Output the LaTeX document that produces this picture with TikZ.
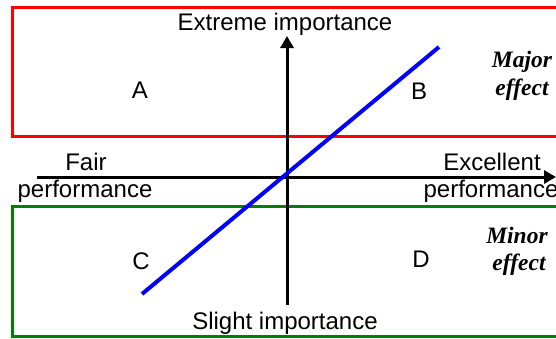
\documentclass[tikz,border=0pt]{standalone}
\usepackage{fontspec}
\setmainfont{Liberation Sans}
\newfontfamily\tnr{Liberation Serif}
\usetikzlibrary{arrows.meta}
\definecolor{boxred}{RGB}{255,0,0}
\definecolor{boxgreen}{RGB}{0,128,0}
\definecolor{lineblue}{RGB}{0,0,255}
\tikzset{
  lbl/.style={font=\fontsize{24}{27}\selectfont, anchor=base, inner sep=0pt},
  eff/.style={font=\tnr\bfseries\itshape\fontsize{23.5}{26}\selectfont, anchor=base, inner sep=0pt},
  axis/.style={line width=3pt, -{Triangle[length=12pt,width=13pt]}},
  region/.style={line width=3pt},
}
\begin{document}
\begin{tikzpicture}[x=1pt,y=-1pt]
\useasboundingbox (0,0) rectangle (556,338);
\clip (0,0) rectangle (556,338);
\fill[white] (0,0) rectangle (556,338);
% regions
\draw[region, draw=boxred] (12.5,7.5) rectangle (575,136);
\draw[region, draw=boxgreen] (12.5,206) rectangle (575,336);
% axis coordinates
\coordinate (ybot) at (287,305);
\coordinate (ytop) at (287,36);
\coordinate (xleft) at (37,177);
\coordinate (xright) at (556,177);
\draw[axis] (ybot) -- (ytop);
\draw[axis] (xleft) -- (xright);
% blue line
\coordinate (bl) at (142,294);
\coordinate (tr) at (439,47);
\draw[line width=4pt, draw=lineblue] (bl) -- (tr);
% labels
\node[lbl] (ext) at (285,30) {Extreme importance};
\node[lbl] (sli) at (285,329) {Slight importance};
\node[lbl] (fair) at (86,170) {Fair};
\node[lbl] (perfl) at (85,197) {performance};
\node[lbl] (exc) at (492,170) {Excellent};
\node[lbl] (perfr) at (491,197) {performance};
\node[lbl] (A) at (140,98) {A};
\node[lbl] (B) at (419,99) {B};
\node[lbl] (C) at (141,269) {C};
\node[lbl] (D) at (421,267) {D};
\node[eff] (maj) at (522,67) {Major};
\node[eff] (majeff) at (522,95) {effect};
\node[eff] (min) at (517,243) {Minor};
\node[eff] (mineff) at (519,270) {effect};
\end{tikzpicture}
\end{document}
